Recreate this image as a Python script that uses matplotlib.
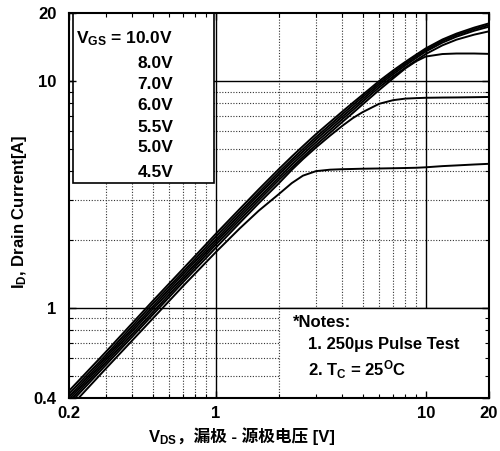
import numpy as np
import matplotlib
matplotlib.use("Agg")
import matplotlib.pyplot as plt
from matplotlib.ticker import FixedLocator, NullFormatter, FixedFormatter
from matplotlib.patches import Rectangle
from matplotlib.offsetbox import TextArea, HPacker, AnchoredOffsetbox

plt.rcParams["font.family"] = ["Liberation Sans", "Noto Sans CJK SC", "DejaVu Sans"]
plt.rcParams["font.weight"] = "bold"
plt.rcParams["mathtext.fontset"] = "custom"
plt.rcParams["mathtext.rm"] = "Liberation Sans:bold"
plt.rcParams["mathtext.it"] = "Liberation Sans:bold"
plt.rcParams["mathtext.bf"] = "Liberation Sans:bold"

# drain-source voltage points [V]
vds = [0.2, 0.3, 0.5, 0.7, 1.0, 1.3, 1.6, 2.0, 2.3, 2.6, 3.0, 3.5, 4.0, 4.5,
       5.0, 6.0, 7.0, 8.0, 9.0, 10.0, 12.0, 14.0, 17.0, 20.0]

# drain current [A] for each gate voltage
id_10v = [0.43, 0.64, 1.07, 1.49, 2.12, 2.73, 3.33, 4.10, 4.65, 5.17, 5.84, 6.60,
          7.34, 8.04, 8.71, 10.02, 11.16, 12.18, 13.10, 13.96, 15.28, 16.22, 17.24, 18.0]
id_8v = [0.417, 0.62, 1.04, 1.445, 2.06, 2.65, 3.23, 3.98, 4.51, 5.02, 5.67, 6.42,
         7.15, 7.85, 8.52, 9.82, 10.95, 11.97, 12.89, 13.74, 15.05, 15.98, 16.97, 17.7]
id_7v = [0.405, 0.605, 1.01, 1.41, 2.00, 2.58, 3.15, 3.88, 4.40, 4.89, 5.53, 6.26,
         6.97, 7.65, 8.32, 9.62, 10.74, 11.75, 12.67, 13.52, 14.80, 15.72, 16.70, 17.4]
id_6v = [0.395, 0.59, 0.985, 1.37, 1.95, 2.51, 3.06, 3.77, 4.28, 4.76, 5.38, 6.09,
         6.79, 7.46, 8.12, 9.40, 10.50, 11.48, 12.36, 13.18, 14.40, 15.25, 16.05, 16.6]
id_55v = [0.385, 0.575, 0.955, 1.335, 1.90, 2.44, 2.98, 3.67, 4.16, 4.63, 5.23, 5.92,
          6.60, 7.25, 7.90, 9.15, 10.30, 11.40, 12.25, 12.85, 13.18, 13.25, 13.25, 13.2]
id_5v = [0.375, 0.56, 0.93, 1.30, 1.84, 2.37, 2.89, 3.55, 4.06, 4.53, 5.10, 5.75,
         6.35, 6.88, 7.30, 7.95, 8.25, 8.38, 8.42, 8.45, 8.47, 8.48, 8.50, 8.52]
id_45v = [0.36, 0.54, 0.895, 1.25, 1.76, 2.24, 2.68, 3.18, 3.55, 3.83, 4.01, 4.07,
          4.09, 4.10, 4.11, 4.12, 4.13, 4.14, 4.15, 4.17, 4.22, 4.25, 4.29, 4.32]

curves = [id_10v, id_8v, id_7v, id_6v, id_55v, id_5v, id_45v]
vgs_labels = [r"$V_{GS}$ = 10.0V", "8.0V", "7.0V", "6.0V", "5.5V", "5.0V", "4.5V"]

x_ticks = [0.2, 1, 10, 20]
x_ticklabels = ["0.2", "1", "10", "20"]
y_ticks = [0.4, 1, 10, 20]
y_ticklabels = ["0.4", "1", "10", "20"]

fig = plt.figure(figsize=(5, 4.51), dpi=100)
ax = fig.add_axes([0.138, 0.1175, 0.840, 0.8537])
ax.set_xscale("log")
ax.set_yscale("log")
ax.set_xlim(0.2, 20)
ax.set_ylim(0.4, 20)

# grid drawn by hand so the notes box can sit on top of it
x_minor = [0.3, 0.4, 0.5, 0.6, 0.7, 0.8, 0.9, 2, 3, 4, 5, 6, 7, 8, 9]
y_minor = [0.5, 0.6, 0.7, 0.8, 0.9, 2, 3, 4, 5, 6, 7, 8, 9]
for v in x_minor:
    ax.axvline(v, color="#333333", lw=0.8, ls=(0, (1, 1.5)), zorder=1)
for v in y_minor:
    ax.axhline(v, color="#333333", lw=0.8, ls=(0, (1, 1.5)), zorder=1)
for v in [1, 10]:
    ax.axvline(v, color="black", lw=1.0, zorder=1)
    ax.axhline(v, color="black", lw=1.0, zorder=1)

# white areas for legend and notes
ax.add_patch(Rectangle((0.0095, 0.558), 0.336, 0.442, transform=ax.transAxes,
                       facecolor="white", edgecolor="black", lw=1.2, zorder=2))
ax.add_patch(Rectangle((0.5, 0.0), 0.5, 0.234, transform=ax.transAxes,
                       facecolor="white", edgecolor="none", zorder=2))
ax.axvline(2, ymin=0, ymax=0.234, color="#333333", lw=0.8, ls=(0, (1, 1.5)), zorder=2.1)
ax.axhline(1, xmin=0.5, xmax=1, color="black", lw=1.0, zorder=2.1)

for ids in curves:
    ax.plot(vds, ids, color="black", lw=1.4, zorder=3)

ax.xaxis.set_major_locator(FixedLocator(x_ticks))
ax.xaxis.set_major_formatter(FixedFormatter(x_ticklabels))
ax.yaxis.set_major_locator(FixedLocator(y_ticks))
ax.yaxis.set_major_formatter(FixedFormatter(y_ticklabels))
ax.xaxis.set_minor_locator(FixedLocator(x_minor))
ax.yaxis.set_minor_locator(FixedLocator(y_minor))
ax.xaxis.set_minor_formatter(NullFormatter())
ax.yaxis.set_minor_formatter(NullFormatter())
ax.tick_params(which="both", direction="in", top=True, right=True, color="black")
ax.tick_params(which="major", length=5, width=1, labelsize=12)
ax.tick_params(axis="y", which="major", pad=9)
ax.tick_params(axis="x", which="major", pad=6)
ax.tick_params(which="minor", length=3, width=0.8)
ax.set_axisbelow(False)
for lbl in ax.get_xticklabels() + ax.get_yticklabels():
    lbl.set_fontweight("bold")
for s in ax.spines.values():
    s.set_linewidth(1.5)
    s.set_zorder(4)

ax.set_ylabel("I$_D$, Drain Current[A]", fontsize=12, fontweight="bold")
ax.yaxis.set_label_coords(-0.095, 0.483)

# x label: mathtext part and CJK part packed side by side
ta1 = TextArea("V$_{DS}$", textprops=dict(fontsize=12, fontweight="bold"))
ta2 = TextArea("，漏极 - 源极电压 [V]",
               textprops=dict(fontsize=12, fontweight="bold",
                              family=["Liberation Sans", "Noto Sans CJK SC"]))
xlab = HPacker(children=[ta1, ta2], align="baseline", pad=0, sep=0)
fig.add_artist(AnchoredOffsetbox(loc="center", child=xlab, frameon=False,
                                 bbox_to_anchor=(0.483, 0.030),
                                 bbox_transform=fig.transFigure, pad=0, borderpad=0))

# legend text
leg_y = [0.921, 0.856, 0.802, 0.748, 0.692, 0.640, 0.575]
for lab, yy in zip(vgs_labels, leg_y):
    ax.text(0.248, yy, lab, transform=ax.transAxes, ha="right", va="baseline",
            fontsize=12.5, fontweight="bold", zorder=5)

# notes
ax.text(0.533, 0.185, "*Notes:", transform=ax.transAxes, ha="left", va="baseline",
        fontsize=12, fontweight="bold", zorder=5)
ax.text(0.570, 0.126, "1. 250μs Pulse Test", transform=ax.transAxes, ha="left",
        va="baseline", fontsize=12, fontweight="bold", zorder=5)
ax.text(0.570, 0.057, "2. T$_C$ = 25$^O$C", transform=ax.transAxes, ha="left",
        va="baseline", fontsize=12, fontweight="bold", zorder=5)

fig.savefig("out.png", dpi=100)
